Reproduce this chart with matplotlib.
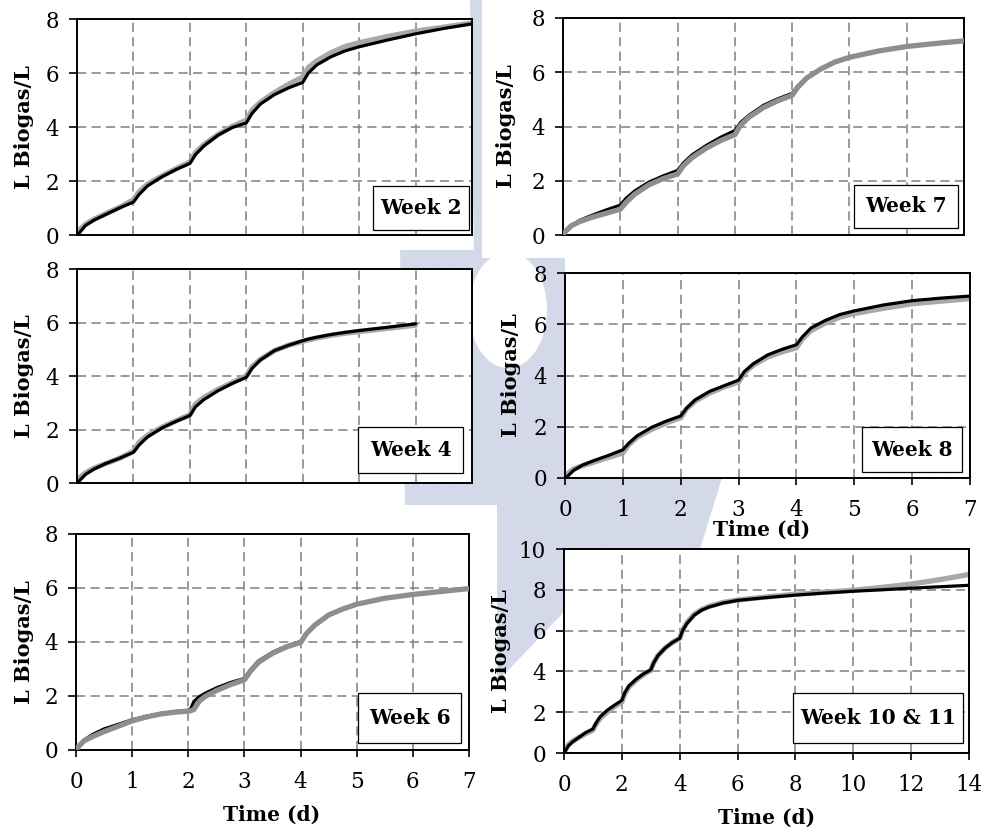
import matplotlib
matplotlib.use("Agg")
import matplotlib.pyplot as plt
from matplotlib.patches import Polygon, Rectangle, Ellipse
from matplotlib.transforms import Affine2D

plt.rcParams['font.family'] = ['DejaVu Serif']

# ---- data ----
T7 = [0, 0.05, 0.15, 0.3, 0.5, 0.75, 1.0, 1.1, 1.25, 1.5, 1.75, 2.0, 2.1, 2.25, 2.5, 2.75,
      3.0, 3.1, 3.25, 3.5, 3.75, 4.0, 4.1, 4.25, 4.5, 4.75, 5.0, 5.5, 6.0, 6.5, 7.0]
T6 = [0, 0.05, 0.15, 0.3, 0.5, 0.75, 1.0, 1.25, 1.5, 1.75, 2.0, 2.05, 2.1, 2.2, 2.3, 2.5, 2.75,
      3.0, 3.1, 3.25, 3.5, 3.75, 4.0, 4.1, 4.25, 4.5, 4.75, 5.0, 5.5, 6.0, 6.5, 7.0]
T14 = [0, 0.05, 0.15, 0.3, 0.5, 0.75, 1.0, 1.1, 1.25, 1.5, 1.75, 2.0, 2.1, 2.25, 2.5, 2.75,
       3.0, 3.1, 3.25, 3.5, 3.75, 4.0, 4.1, 4.25, 4.5, 4.75, 5.0, 5.5, 6.0, 7.0, 8.0, 9.0,
       10.0, 11.0, 12.0, 13.0, 14.0]

W2_BLACK = [0, 0.1, 0.35, 0.55, 0.75, 1.0, 1.22, 1.5, 1.82, 2.15, 2.42, 2.65, 2.98, 3.3, 3.7, 3.98,
            4.15, 4.5, 4.85, 5.2, 5.45, 5.65, 6.0, 6.3, 6.6, 6.82, 6.97, 7.22, 7.45, 7.65, 7.82]
W2_GREY = [0.05, 0.2, 0.4, 0.58, 0.78, 1.02, 1.3, 1.6, 1.88, 2.18, 2.45, 2.7, 3.05, 3.35, 3.72, 4.02,
           4.25, 4.62, 4.92, 5.28, 5.58, 5.85, 6.2, 6.45, 6.75, 6.98, 7.12, 7.35, 7.55, 7.7, 7.85]

W7_BLACK = [0, 0.12, 0.35, 0.55, 0.72, 0.92, 1.1, 1.35, 1.62, 1.95, 2.18, 2.38, 2.65, 2.95, 3.3, 3.6,
            3.85, 4.15, 4.42, 4.78, 5.02, 5.22, 5.5, 5.8, 6.12, 6.38, 6.55, 6.78, 6.95, 7.06, 7.16]
W7_GREY = [0, 0.15, 0.35, 0.5, 0.65, 0.8, 0.95, 1.2, 1.5, 1.85, 2.08, 2.25, 2.55, 2.85, 3.2, 3.48,
           3.7, 4.05, 4.35, 4.7, 4.95, 5.15, 5.45, 5.78, 6.12, 6.38, 6.55, 6.78, 6.95, 7.06, 7.16]

W4_BLACK = [0, 0.1, 0.32, 0.52, 0.72, 0.92, 1.15, 1.42, 1.72, 2.05, 2.3, 2.52, 2.85, 3.12, 3.45, 3.72,
            3.95, 4.28, 4.6, 4.95, 5.15, 5.32, 5.38, 5.45, 5.55, 5.63, 5.7, 5.82, 5.95]
W4_GREY = [0.05, 0.2, 0.38, 0.55, 0.72, 0.92, 1.18, 1.52, 1.78, 2.08, 2.32, 2.55, 2.95, 3.2, 3.5, 3.75,
           4.0, 4.35, 4.62, 4.95, 5.15, 5.3, 5.35, 5.42, 5.52, 5.6, 5.66, 5.78, 5.9]

W8_BLACK = [0, 0.08, 0.3, 0.5, 0.68, 0.88, 1.1, 1.35, 1.65, 1.98, 2.22, 2.42, 2.72, 3.05, 3.38, 3.6,
            3.82, 4.15, 4.45, 4.8, 5.02, 5.2, 5.5, 5.85, 6.15, 6.38, 6.52, 6.75, 6.92, 7.02, 7.1]
W8_GREY = [0.05, 0.18, 0.35, 0.48, 0.62, 0.8, 0.98, 1.3, 1.6, 1.9, 2.15, 2.35, 2.7, 3.0, 3.32, 3.55,
           3.75, 4.1, 4.4, 4.72, 4.92, 5.08, 5.42, 5.75, 6.05, 6.28, 6.42, 6.62, 6.8, 6.9, 7.0]

W6_BLACK = [0, 0.1, 0.38, 0.58, 0.78, 0.95, 1.12, 1.25, 1.35, 1.42, 1.47, 1.55, 1.8, 1.98, 2.1, 2.3,
            2.5, 2.65, 2.95, 3.3, 3.62, 3.85, 4.02, 4.3, 4.62, 5.0, 5.22, 5.4, 5.62, 5.76, 5.87, 5.98]
W6_GREY = [0, 0.15, 0.35, 0.5, 0.68, 0.88, 1.08, 1.22, 1.33, 1.4, 1.44, 1.46, 1.5, 1.82, 1.98, 2.2,
           2.42, 2.6, 2.9, 3.25, 3.58, 3.82, 3.98, 4.3, 4.62, 5.0, 5.22, 5.4, 5.62, 5.76, 5.87, 5.98]

W10_BLACK = [0, 0.1, 0.35, 0.55, 0.75, 1.0, 1.18, 1.45, 1.78, 2.1, 2.35, 2.58, 2.95, 3.3, 3.62, 3.88,
             4.08, 4.42, 4.78, 5.15, 5.42, 5.62, 6.0, 6.35, 6.75, 7.0, 7.15, 7.35, 7.48, 7.62, 7.74,
             7.84, 7.93, 8.0, 8.08, 8.15, 8.22]
W10_GREY = [0.05, 0.2, 0.4, 0.58, 0.75, 0.95, 1.12, 1.4, 1.7, 2.02, 2.28, 2.5, 2.9, 3.25, 3.58, 3.85,
            4.05, 4.42, 4.78, 5.15, 5.42, 5.62, 6.02, 6.4, 6.8, 7.02, 7.18, 7.38, 7.5, 7.65, 7.78,
            7.88, 7.98, 8.12, 8.28, 8.5, 8.75]

LABELS = ["Week 2", "Week 7", "Week 4", "Week 8", "Week 6", "Week 10 & 11"]

# ---- layout (pixel positions in the 983x831 picture) ----
W, H = 983, 831
fig = plt.figure(figsize=(W / 100, H / 100), dpi=100)
PX = Affine2D().scale(1 / W, -1 / H).translate(0, 1) + fig.transFigure

WM = '#d3d9e8'
# faint watermark behind the panels
fig.add_artist(Polygon([(470, 0), (482, 0), (482, 262), (474, 262)], closed=True,
                       transform=PX, fc=WM, ec='none', zorder=-3))
fig.add_artist(Polygon([(400, 250), (482, 250), (482, 258), (565, 258), (565, 478), (722, 478),
                        (700, 549), (564, 549), (564, 612), (497, 682), (497, 505), (405, 505)],
                       closed=True, transform=PX, fc=WM, ec='none', zorder=-3))
fig.add_artist(Ellipse((508, 310), 78, 116, transform=PX, fc='white', ec='none', zorder=-2))
fig.add_artist(Rectangle((482, 0), 501, 258, transform=PX, fc='white', ec='none', zorder=-1))
fig.add_artist(Rectangle((0, 505), 497, 326, transform=PX, fc='white', ec='none', zorder=-1))

panels = [
    # rect (l, t, r, b), box (l, t, r, b) and y-label x are picture pixels
    dict(rect=(77, 19, 472, 235), t=T7, black=W2_BLACK, grey=W2_GREY, xmax=7, ymax=8, xstep=1,
         gtop=False, gcol='#a8a8a8', xt=False, box=(373, 186, 469, 230), yl=24),
    dict(rect=(563, 18, 964, 235), t=T7, black=W7_BLACK, grey=W7_GREY, xmax=7, ymax=8, xstep=1,
         gtop=True, gcol='#8e8e8e', xt=False, box=(854, 185, 958, 228), yl=506),
    dict(rect=(77, 269, 472, 483), t=T7[:29], black=W4_BLACK, grey=W4_GREY, xmax=7, ymax=8, xstep=1,
         gtop=False, gcol='#a8a8a8', xt=False, box=(358, 427, 463, 473), yl=24),
    dict(rect=(565, 273, 970, 478), t=T7, black=W8_BLACK, grey=W8_GREY, xmax=7, ymax=8, xstep=1,
         gtop=False, gcol='#a8a8a8', xt=True, box=(862, 427, 962, 472), yl=511),
    dict(rect=(76, 534, 469, 750), t=T6, black=W6_BLACK, grey=W6_GREY, xmax=7, ymax=8, xstep=1,
         gtop=True, gcol='#8e8e8e', xt=True, box=(358, 693, 461, 743), yl=24),
    dict(rect=(564, 549, 969, 753), t=T14, black=W10_BLACK, grey=W10_GREY, xmax=14, ymax=10, xstep=2,
         gtop=False, gcol='#a8a8a8', xt=True, box=(793, 693, 963, 743), yl=501),
]

for p, label in zip(panels, LABELS):
    l, t, r, b = p['rect']
    ax = fig.add_axes([l / W, 1 - b / H, (r - l) / W, (b - t) / H])
    ax.set_facecolor('white')
    ax.set_axisbelow(True)
    ax.plot(p['t'], p['black'], color='black', lw=2.3, zorder=3, solid_capstyle='round')
    ax.plot(p['t'], p['grey'], color=p['gcol'], lw=3.8, zorder=4 if p['gtop'] else 2,
            solid_capstyle='round')
    ax.set_xlim(0, p['xmax'])
    ax.set_ylim(0, p['ymax'])
    ax.set_xticks(range(0, p['xmax'] + 1, p['xstep']))
    ax.set_yticks(range(0, p['ymax'] + 1, 2))
    ax.grid(True, color='#7f7f7f', linestyle=(0, (6, 3.5)), linewidth=1.1)
    for s in ax.spines.values():
        s.set_color('black')
        s.set_linewidth(1.4)
    ax.tick_params(axis='y', direction='out', length=6, width=1.2, pad=7, labelsize=15.5)
    if p['xt']:
        ax.tick_params(axis='x', direction='out', length=5, width=1.2, pad=10, labelsize=15.5)
    else:
        ax.tick_params(axis='x', length=0, labelbottom=False)

    # label box
    bl, bt, br, bb = p['box']
    fig.add_artist(Rectangle((bl, bt), br - bl, bb - bt, transform=PX, fc='white',
                             ec='black', lw=0.9, zorder=5))
    fig.text((bl + br) / 2 / W, 1 - (bt + bb) / 2 / H, label, ha='center', va='center',
             fontsize=14.5, fontweight='bold', zorder=6)

    fig.text(p['yl'] / W, 1 - (t + b) / 2 / H, 'L Biogas/L', rotation=90, ha='center',
             va='center', fontsize=15, fontweight='bold')

# x axis titles
for x, y in [(762, 530), (272, 815), (767, 818)]:
    fig.text(x / W, 1 - y / H, 'Time (d)', ha='center', va='center', fontsize=14.5,
             fontweight='bold', zorder=6)

fig.savefig('out.png', dpi=100)
